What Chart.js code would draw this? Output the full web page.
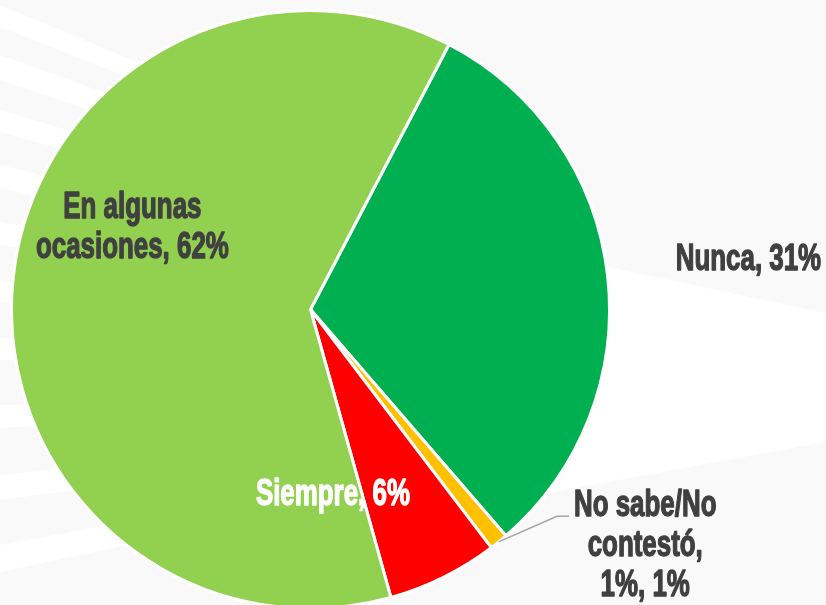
<!DOCTYPE html>
<html><head><meta charset="utf-8">
<script src="https://cdn.jsdelivr.net/npm/chart.js@4/dist/chart.umd.min.js"></script>
<style>html,body{margin:0;padding:0;background:#f9f9f9;overflow:hidden}canvas{display:block}</style>
</head><body>
<canvas id="c" width="826" height="605"></canvas>
<script>
// ---- data ----
const categories = ['Nunca', 'No sabe/No contestó', 'Siempre', 'En algunas ocasiones'];
const values = [31, 1, 6, 62];
const sliceColors = ['#00B050', '#FFC000', '#FF0000', '#92D050'];
const labelLines = [['Nunca, 31%'], ['No sabe/No', 'contestó,', '1%, 1%'], ['Siempre, 6%'], ['En algunas', 'ocasiones, 62%']];
const labelColors = ['#404040', '#404040', '#FFFFFF', '#404040'];
// label block centre: angle (deg, clockwise from top) and distance as a fraction of the radius
const labelAngle = [83.2, 124.9, 173.0, 295.5];
const labelDist = [1.475, 1.365, 0.615, 0.66];
const leaderFor = [false, true, false, false];

// ---- decorative background rays (white on light grey) ----
const leftRayYs = [[5,27],[55,80],[110,132],[165,188],[222,245],[280,302],[338,360],[405,428],[475,500],[545,572]];

const bgPlugin = {
  id: 'bg',
  beforeDraw(chart) {
    const ctx = chart.ctx;
    ctx.save();
    ctx.fillStyle = '#f9f9f9';
    ctx.fillRect(0, 0, chart.width, chart.height);
    ctx.fillStyle = '#ffffff';
    ctx.beginPath();
    ctx.moveTo(500, 244);
    ctx.lineTo(1150, 382);
    ctx.lineTo(500, 502);
    ctx.closePath();
    ctx.fill();
    const ax = 900, ay = 380, stopX = 330;
    leftRayYs.forEach(([y1, y2]) => {
      const t = stopX / ax;
      ctx.beginPath();
      ctx.moveTo(0, y1);
      ctx.lineTo(stopX, y1 + (ay - y1) * t);
      ctx.lineTo(stopX, y2 + (ay - y2) * t);
      ctx.lineTo(0, y2);
      ctx.closePath();
      ctx.fill();
    });
    ctx.restore();
  }
};

const labelPlugin = {
  id: 'labels',
  afterDatasetsDraw(chart) {
    const ctx = chart.ctx;
    const meta = chart.getDatasetMeta(0);
    const arc0 = meta.data[0];
    const cx = arc0.x, cy = arc0.y, R = arc0.outerRadius;
    const lh = 40, capHalf = 13.2, sx = 0.7;
    ctx.save();
    ctx.font = 'bold 37px "Liberation Sans", Arial, sans-serif';
    ctx.textAlign = 'center';
    ctx.textBaseline = 'alphabetic';
    labelLines.forEach((lines, i) => {
      const a = labelAngle[i] * Math.PI / 180;
      const px = cx + Math.sin(a) * labelDist[i] * R;
      const py = cy - Math.cos(a) * labelDist[i] * R;
      const n = lines.length;
      let maxW = 0;
      lines.forEach(l => { maxW = Math.max(maxW, ctx.measureText(l).width * sx); });
      if (leaderFor[i]) {
        const el = meta.data[i];
        const mid = (el.startAngle + el.endAngle) / 2;
        const x0 = cx + Math.cos(mid) * R, y0 = cy + Math.sin(mid) * R;
        const yb = py - (n - 1) * lh / 2 + capHalf;
        const xe = px - maxW / 2 - 5;
        ctx.strokeStyle = '#A6A6A6';
        ctx.lineWidth = 1.5;
        ctx.beginPath();
        ctx.moveTo(x0, y0);
        ctx.lineTo(xe - 12, yb);
        ctx.lineTo(xe, yb);
        ctx.stroke();
      }
      ctx.fillStyle = labelColors[i];
      ctx.strokeStyle = labelColors[i];
      ctx.lineWidth = 1.4;
      ctx.lineJoin = 'round';
      lines.forEach((l, k) => {
        const by = py - (n - 1) * lh / 2 + k * lh + capHalf;
        ctx.save();
        ctx.translate(px, by);
        ctx.scale(sx, 1);
        ctx.fillText(l, 0, 0);
        ctx.strokeText(l, 0, 0);
        ctx.restore();
      });
    });
    ctx.restore();
  }
};

new Chart(document.getElementById('c'), {
  type: 'pie',
  data: {
    labels: categories,
    datasets: [{
      data: values,
      backgroundColor: sliceColors,
      borderColor: '#ffffff',
      borderWidth: 3
    }]
  },
  options: {
    responsive: false,
    animation: false,
    devicePixelRatio: 1,
    rotation: 27.6,
    radius: 299,
    layout: { padding: { left: 0, right: 205, top: 14, bottom: 0 } },
    plugins: { legend: { display: false }, tooltip: { enabled: false } }
  },
  plugins: [bgPlugin, labelPlugin]
});
</script>
</body></html>
